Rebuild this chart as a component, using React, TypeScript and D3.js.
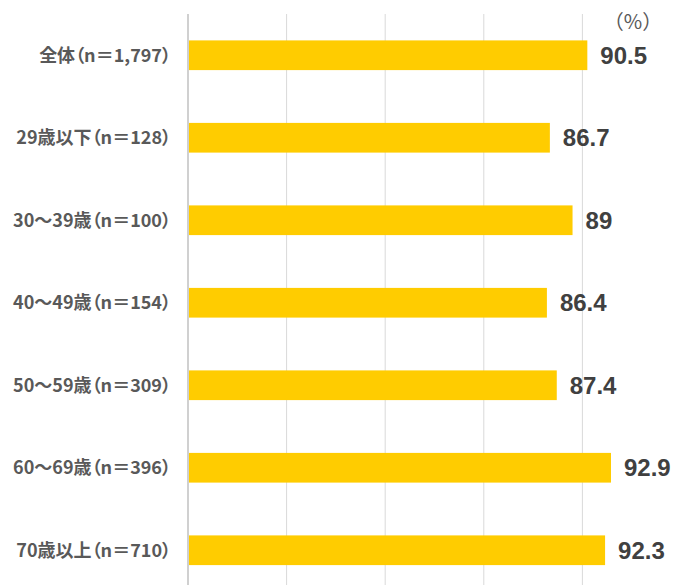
import React, { useEffect, useRef } from "react";
import * as d3 from "d3";

const categories = [
  "全体（n＝1,797）",
  "29歳以下（n＝128）",
  "30～39歳（n＝100）",
  "40～49歳（n＝154）",
  "50～59歳（n＝309）",
  "60～69歳（n＝396）",
  "70歳以上（n＝710）",
];
const values = [90.5, 86.7, 89, 86.4, 87.4, 92.9, 92.3];
const gridTicks = [60, 70, 80, 90, 100];
const unitLabel = "（%）";

export default function App() {
  const ref = useRef<SVGSVGElement>(null);

  useEffect(() => {
    const height = 585;
    const svg = d3.select(ref.current);
    svg.selectAll("*").remove();

    const x = d3.scaleLinear().domain([50, 100]).range([188, 681]);
    const y = d3.scaleBand()
      .domain(categories)
      .range([14, 591.5])
      .paddingInner(0.64)
      .paddingOuter(0.32);

    // gridlines
    svg.append("g")
      .selectAll("line")
      .data(gridTicks)
      .enter()
      .append("line")
      .attr("x1", d => x(d))
      .attr("x2", d => x(d))
      .attr("y1", 14)
      .attr("y2", height)
      .attr("stroke", "#d9d9d9")
      .attr("stroke-width", 1);

    // axis line
    svg.append("line")
      .attr("x1", x(50))
      .attr("x2", x(50))
      .attr("y1", 14)
      .attr("y2", height)
      .attr("stroke", "#d0d0d0")
      .attr("stroke-width", 2);

    svg.append("g")
      .selectAll("rect")
      .data(values)
      .enter()
      .append("rect")
      .attr("x", x(50) + 1)
      .attr("y", (d, i) => y(categories[i])!)
      .attr("width", d => x(d) - x(50) - 1)
      .attr("height", y.bandwidth())
      .attr("fill", "#ffcc00");

    // category labels
    svg.append("g")
      .selectAll("text")
      .data(categories)
      .enter()
      .append("text")
      .attr("x", 171)
      .attr("y", d => y(d)! + y.bandwidth() / 2)
      .attr("dy", "0.36em")
      .attr("text-anchor", "end")
      .attr("font-family", "'Noto Sans CJK JP', sans-serif")
      .attr("font-weight", "bold")
      .attr("font-size", 18)
      .style("font-feature-settings", "'palt'")
      .attr("fill", "#595959")
      .text(d => d);

    // value labels
    svg.append("g")
      .selectAll("text")
      .data(values)
      .enter()
      .append("text")
      .attr("x", d => x(d) + 13)
      .attr("y", (d, i) => y(categories[i])! + y.bandwidth() / 2)
      .attr("dy", "0.36em")
      .attr("font-family", "'Liberation Sans', Arial, sans-serif")
      .attr("font-weight", "bold")
      .attr("font-size", 24)
      .attr("fill", "#404040")
      .text(d => String(d));

    svg.append("text")
      .attr("x", 633)
      .attr("y", 29)
      .attr("text-anchor", "middle")
      .attr("font-family", "'Noto Sans CJK JP', sans-serif")
      .attr("font-size", 20)
      .attr("fill", "#595959")
      .text(unitLabel);
  }, []);

  return (
    <svg
      ref={ref}
      width={673}
      height={585}
      style={{ position: "absolute", left: 0, top: 0, background: "#fff" }}
    />
  );
}
